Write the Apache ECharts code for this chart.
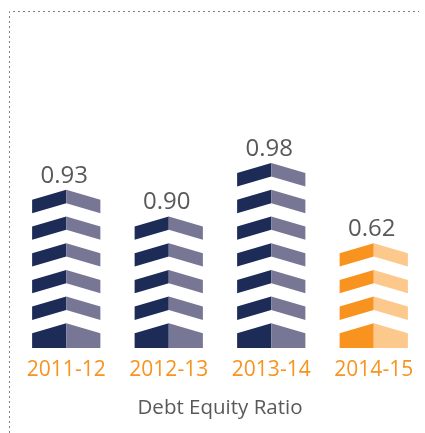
<!DOCTYPE html>
<html>
<head>
<meta charset="utf-8">
<script src="https://cdn.jsdelivr.net/npm/echarts@6/dist/echarts.min.js"></script>
<style>html,body{margin:0;padding:0;background:#fff;}#c{width:425px;height:433px;}</style>
</head>
<body>
<div id="c"></div>
<script>
const categories = ['2011-12', '2012-13', '2013-14', '2014-15'];
const ratios = [0.93, 0.90, 0.98, 0.62];
const blocks = [6, 5, 7, 4];
const axisTitle = 'Debt Equity Ratio';

const darkColors = ['#1d2b57', '#1d2b57', '#1d2b57', '#f7931e'];
const lightColors = ['#777795', '#777795', '#777795', '#fdc88b'];

const chart = echarts.init(document.getElementById('c'), null, {renderer: 'canvas'});

function renderItem(params, api) {
  const i = api.value(0);
  const n = api.value(1);
  const base = api.coord([i, 0]);
  const unit = api.size([0, 1])[1];
  const band = api.size([1, 0])[0];
  const cx = base[0];
  const y0 = base[1];
  const w = band * 0.333;
  const slope = unit * 0.375;
  const thick = unit * 0.5;
  const children = [];
  let topPeak = y0;
  for (let k = 0; k < n; k++) {
    const p = y0 - (k + 0.925) * unit;
    topPeak = p;
    let left, right;
    if (k === 0) {
      left = [[cx - w, p + slope], [cx, p], [cx, y0], [cx - w, y0]];
      right = [[cx, p], [cx + w, p + slope], [cx + w, y0], [cx, y0]];
    } else {
      left = [[cx - w, p + slope], [cx, p], [cx, p + thick], [cx - w, p + slope + thick]];
      right = [[cx, p], [cx + w, p + slope], [cx + w, p + slope + thick], [cx, p + thick]];
    }
    children.push({type: 'polygon', shape: {points: left}, style: {fill: darkColors[i]}});
    children.push({type: 'polygon', shape: {points: right}, style: {fill: lightColors[i]}});
  }
  children.push({
    type: 'text',
    x: cx - 2,
    y: topPeak - 14,
    style: {
      text: api.value(2).toFixed(2),
      fill: '#595959',
      font: '24px "Open Sans"',
      align: 'center',
      verticalAlign: 'middle'
    }
  });
  return {type: 'group', children: children};
}

const option = {
  animation: false,
  graphic: [{
    type: 'polyline',
    shape: {points: [[9.5, 433], [9.5, 11.5], [419, 11.5]]},
    style: {stroke: '#808080', lineWidth: 1, lineDash: [2, 3], fill: null}
  }],
  grid: {left: 15, right: -5, top: 81, bottom: 85},
  xAxis: {
    type: 'category',
    data: categories,
    axisLine: {show: false},
    axisTick: {show: false},
    axisLabel: {color: '#f7931e', fontSize: 21, fontFamily: 'Open Sans', margin: 12},
    name: axisTitle,
    nameLocation: 'middle',
    nameGap: 50,
    nameTextStyle: {color: '#595959', fontSize: 20.5, fontFamily: 'Open Sans'}
  },
  yAxis: {
    type: 'value',
    min: 0,
    max: 10,
    show: false
  },
  series: [{
    type: 'custom',
    renderItem: renderItem,
    data: categories.map((c, i) => [i, blocks[i], ratios[i]])
  }]
};
chart.setOption(option);
</script>
</body>
</html>
